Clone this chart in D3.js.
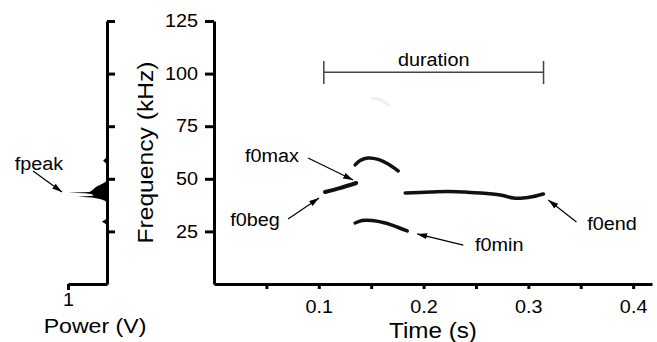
<!DOCTYPE html>
<html>
<head>
<meta charset="utf-8">
<script src="https://cdn.jsdelivr.net/npm/d3@7"></script>
<style>
  html, body { margin: 0; padding: 0; background: #fff; }
  svg { display: block; font-family: "Liberation Sans", Arial, Helvetica, sans-serif; }
  .axis path, .axis line { stroke: #000; stroke-width: 3; }
  .axis text { fill: #000; font-size: 18px; }
</style>
</head>
<body>
<svg id="chart" width="657" height="342"></svg>
<script>
// ---------- data ----------
const freqTicks = [25, 50, 75, 100, 125];
const timeTicks = [0.05, 0.1, 0.15, 0.2, 0.25, 0.3, 0.35, 0.4];
const timeLabelTicks = [0.1, 0.2, 0.3, 0.4];
const powerTicks = [1];

// power spectrum (frequency kHz -> power V)
const specFreq  = [0, 27.5, 28.6, 29.6, 30.6, 31.5, 38.5, 39.6, 40.4, 41.1, 41.5, 41.9, 42.6, 43.1, 43.4, 43.7, 44.3, 45.2, 46.2, 47.2, 48.2, 49.2, 56.5, 57.6, 58.6, 59.6, 61, 125];
const specPower = [0, 0,    0.04, 0.13, 0.04, 0,    0,    0.05, 0.18, 0.38, 0.75, 0.35, 0.38, 0.55, 1.0,  0.45, 0.4,  0.34, 0.28, 0.17, 0.06, 0,    0,    0.04, 0.1,  0.04, 0,  0];

// spectrogram contours (time s, frequency kHz)
const begTime = [0.106, 0.120, 0.1357];
const begFreq = [43.7, 45.6, 48.0];
const upperTime = [0.1347, 0.1395, 0.147, 0.1567, 0.1662, 0.1758];
const upperFreq = [56.6, 58.7, 59.9, 59.2, 57.0, 53.7];
const lowerTime = [0.1347, 0.1414, 0.151, 0.1634, 0.1748, 0.1844];
const lowerFreq = [29.0, 30.2, 30.2, 29.0, 27.1, 25.2];
const longTime = [0.1825, 0.2064, 0.2226, 0.2398, 0.2541, 0.2732, 0.2857, 0.2952, 0.3048, 0.3143];
const longFreq = [43.3, 43.7, 44.0, 43.7, 43.3, 42.3, 40.9, 40.9, 41.6, 42.8];
const faintTime = [0.151, 0.159, 0.167];
const faintFreq = [88.3, 87.6, 84.8];

// duration bracket
const durationStart = 0.1048;
const durationEnd = 0.3145;
const durationFreq = 100.6;

// annotations (label, text anchor point, arrow start, arrow end) in data units
const annotLabels = ["f0max", "f0beg", "f0min", "f0end"];
const annotTextT = [0.0554, 0.0392, 0.2723, 0.3798];
const annotTextF = [58.0, 27.6, 15.8, 25.7];
const arrowFromT = [0.0898, 0.0707, 0.2379, 0.3459];
const arrowFromF = [59.9, 30.9, 18.5, 29.5];
const arrowToT = [0.1328, 0.1003, 0.1939, 0.3191];
const arrowToF = [49.4, 40.9, 23.8, 39.9];

// ---------- layout ----------
const svg = d3.select("#chart");
const y = d3.scaleLinear().domain([0, 125]).range([284, 21]);
const x = d3.scaleLinear().domain([0, 0.418]).range([214, 652]);
const p = d3.scaleLinear().domain([0, 1]).range([107, 68]);

const defs = svg.append("defs");
defs.append("marker")
  .attr("id", "arrow").attr("markerUnits", "userSpaceOnUse")
  .attr("viewBox", "0 0 10 6").attr("refX", 10).attr("refY", 3)
  .attr("markerWidth", 10).attr("markerHeight", 6).attr("orient", "auto")
  .append("path").attr("d", "M0,0 L10,3 L0,6 Z").attr("fill", "#000");

// ---------- power spectrum panel ----------
const specData = specFreq.map((f, i) => ({ f, p: specPower[i] }));
svg.append("path")
  .datum(specData)
  .attr("fill", "#000")
  .attr("d", d3.area().y(d => y(d.f)).x0(p(0)).x1(d => p(d.p)));

svg.append("g").attr("class", "axis")
  .attr("transform", `translate(${p(0)},0)`)
  .call(d3.axisRight(y).tickValues(freqTicks).tickSize(8).tickSizeOuter(0).tickFormat(""));

svg.append("g").attr("class", "axis")
  .attr("transform", `translate(0,${y(0)})`)
  .call(d3.axisBottom(p).tickValues(powerTicks).tickSize(6).tickSizeOuter(0).tickPadding(3).tickFormat(d3.format("d")));

svg.append("text").attr("class", "stretch")
  .attr("x", 95).attr("y", 333).attr("text-anchor", "middle")
  .style("font-size", "21px").text("Power (V)");

// fpeak annotation
svg.append("text").attr("class", "stretch")
  .attr("x", p(1.744)).attr("y", y(54.2)).attr("text-anchor", "middle")
  .style("font-size", "18px").text("fpeak");
svg.append("line")
  .attr("x1", p(1.897)).attr("y1", y(53.7)).attr("x2", p(1.154)).attr("y2", y(43.7))
  .attr("stroke", "#000").attr("stroke-width", 1.2).attr("marker-end", "url(#arrow)");

// ---------- spectrogram panel ----------
svg.append("g").attr("class", "axis")
  .attr("transform", `translate(0,${y(0)})`)
  .call(d3.axisBottom(x).tickValues(timeTicks).tickSize(5).tickSizeOuter(0).tickPadding(11)
    .tickFormat(d => timeLabelTicks.some(v => Math.abs(v - d) < 1e-9) ? d3.format(".1f")(d) : ""));

svg.append("g").attr("class", "axis")
  .attr("transform", `translate(${x(0)},0)`)
  .call(d3.axisLeft(y).tickValues(freqTicks).tickSize(9).tickSizeOuter(0).tickPadding(7));

svg.append("text").attr("class", "stretch")
  .attr("x", (x.range()[0] + x.range()[1]) / 2).attr("y", 338).attr("text-anchor", "middle")
  .style("font-size", "22px").text("Time (s)");

svg.append("text").attr("id", "ylab")
  .attr("transform", `translate(153,${(y.range()[0] + y.range()[1]) / 2}) rotate(-90)`)
  .attr("text-anchor", "middle")
  .style("font-size", "22px").text("Frequency (kHz)");

// contours
const line = d3.line().x(d => x(d.t)).y(d => y(d.f)).curve(d3.curveCatmullRom);
function contour(ts, fs, width, color) {
  svg.append("path")
    .datum(ts.map((t, i) => ({ t, f: fs[i] })))
    .attr("fill", "none").attr("stroke", color).attr("stroke-width", width)
    .attr("stroke-linecap", "round").attr("stroke-linejoin", "round")
    .attr("d", line);
}
contour(faintTime, faintFreq, 3, "#f0f0f0");
contour(begTime, begFreq, 4, "#111");
contour(upperTime, upperFreq, 3.5, "#111");
contour(lowerTime, lowerFreq, 3.5, "#111");
contour(longTime, longFreq, 3.5, "#111");

// duration bracket
const bracket = svg.append("g").attr("stroke", "#444").attr("stroke-width", 1.5);
bracket.append("line").attr("x1", x(durationStart)).attr("x2", x(durationEnd))
  .attr("y1", y(durationFreq)).attr("y2", y(durationFreq));
[durationStart, durationEnd].forEach(t => {
  bracket.append("line").attr("x1", x(t)).attr("x2", x(t))
    .attr("y1", y(durationFreq + 5.4)).attr("y2", y(durationFreq - 5.6));
});
svg.append("text").attr("class", "stretch")
  .attr("x", x((durationStart + durationEnd) / 2)).attr("y", y(durationFreq) - 6.5)
  .attr("text-anchor", "middle").style("font-size", "18px").text("duration");

// annotations
annotLabels.forEach((lab, i) => {
  svg.append("text").attr("class", "stretch")
    .attr("x", x(annotTextT[i])).attr("y", y(annotTextF[i]))
    .attr("text-anchor", "middle").style("font-size", "18px").text(lab);
  svg.append("line")
    .attr("x1", x(arrowFromT[i])).attr("y1", y(arrowFromF[i]))
    .attr("x2", x(arrowToT[i])).attr("y2", y(arrowToF[i]))
    .attr("stroke", "#000").attr("stroke-width", 1.2).attr("marker-end", "url(#arrow)");
});

// horizontal stretch of text, as in the reference
svg.selectAll("text.stretch, .axis text").each(function () {
  const len = this.getComputedTextLength();
  if (len > 0) {
    d3.select(this).attr("textLength", len * 1.1).attr("lengthAdjust", "spacingAndGlyphs");
  }
});
const yl = document.getElementById("ylab");
d3.select(yl).attr("textLength", yl.getComputedTextLength() * 1.12).attr("lengthAdjust", "spacingAndGlyphs");
</script>
</body>
</html>
